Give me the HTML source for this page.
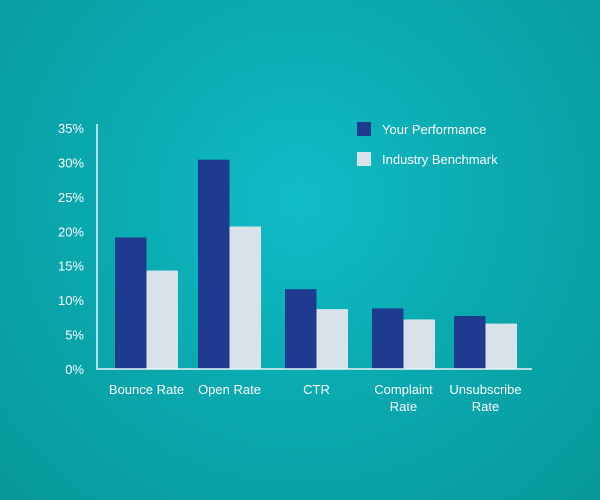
<!DOCTYPE html>
<html><head><meta charset="utf-8"><style>
body{margin:0;width:600px;height:500px;overflow:hidden;font-family:"Liberation Sans",sans-serif}
#bg{position:absolute;left:0;top:0;width:600px;height:500px;background:radial-gradient(ellipse at 50% 40%,#10bcc8 0%,#0aaab0 45%,#07989a 100%)}
svg{position:absolute;left:0;top:0}
text{fill:#fff;font-size:13px}
</style></head><body>
<div id="bg"></div>
<svg id="chart" width="600" height="500"></svg>
<script>
const categories=[["Bounce Rate"],["Open Rate"],["CTR"],["Complaint","Rate"],["Unsubscribe","Rate"]];
const yourPerformance=[19.1,30.4,11.6,8.8,7.7];
const industryBenchmark=[14.3,20.7,8.7,7.2,6.6];
const yTicks=[0,5,10,15,20,25,30,35];
const seriesNames=["Your Performance","Industry Benchmark"];
const colors=["#1f3b8f","#d8e2e8"];
const NS="http://www.w3.org/2000/svg";
const svg=document.getElementById('chart');
const x0=97,y0=369,yTop=128,xEnd=532;
const y=v=>y0-(v/35)*(y0-yTop);
const groupX=[115,198,285,372,454];
const bw=31.5;
function mk(t,a){const e=document.createElementNS(NS,t);for(const k in a)e.setAttribute(k,a[k]);svg.appendChild(e);return e;}
yTicks.forEach(t=>{
  const e=mk('text',{x:84,y:y(t)+5,'text-anchor':'end'});e.textContent=t+'%';
  
  
});
[yourPerformance,industryBenchmark].forEach((s,si)=>{
  s.forEach((v,i)=>{
    const r=mk('rect',{x:groupX[i]+si*bw,y:y(v),width:bw,height:y0-y(v),fill:colors[si]});
    
    
  });
});
categories.forEach((c,i)=>{
  c.forEach((line,j)=>{
    const e=mk('text',{x:groupX[i]+bw,y:394+j*17,'text-anchor':'middle'});e.textContent=line;
    
    
  });
});
const ax=mk('path',{d:`M${x0} 124V${y0}H${xEnd}`,stroke:'#e8f4f4','stroke-width':1.5,fill:'none'});


seriesNames.forEach((n,i)=>{
  const r=mk('rect',{x:357,y:122+i*30,width:14,height:14,fill:colors[i]});
  
  
  const t=mk('text',{x:382,y:134+i*30});t.textContent=n;
  
  
});
</script>
</body></html>
